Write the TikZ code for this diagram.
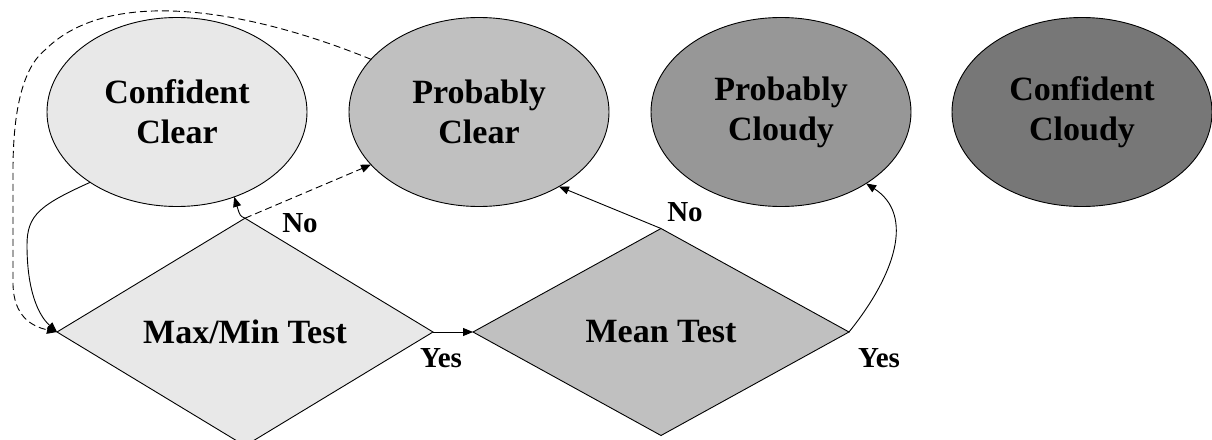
\documentclass[tikz,border=0pt]{standalone}
\usepackage{fontspec}
\setmainfont{Liberation Serif}
\usetikzlibrary{shapes.geometric,arrows.meta}

\definecolor{clearsure}{HTML}{E8E8E8}
\definecolor{clearmaybe}{HTML}{C0C0C0}
\definecolor{cloudmaybe}{HTML}{979797}
\definecolor{cloudsure}{HTML}{777777}

\begin{document}
\begin{tikzpicture}[x=1pt,y=-1pt,
  state/.style={ellipse,draw=black,line width=0.9pt,minimum width=260pt,
    minimum height=189pt,inner sep=0pt,outer sep=0pt,align=center,
    font=\fontsize{34}{40}\selectfont\bfseries},
  test/.style={diamond,draw=black,line width=0.9pt,minimum width=376pt,
    minimum height=207pt,inner sep=0pt,outer sep=0pt,
    font=\fontsize{34}{40}\selectfont\bfseries},
  answer/.style={inner sep=0pt,font=\fontsize{29}{32}\selectfont\bfseries},
  link/.style={line width=0.9pt,-{Triangle[length=10pt,width=8pt]}},
  maybe/.style={link,dash pattern=on 7pt off 4pt}]

\useasboundingbox (0,0) rectangle (1212,439);

% outcome classes
\node[state,fill=clearsure]  (cc)  at (177,112) {Confident\\Clear};
\node[state,fill=clearmaybe] (pc)  at (479,112) {Probably\\Clear};
\node[state,fill=cloudmaybe] (pcl) at (781,112) {Probably\\Cloudy};
\node[state,fill=cloudsure]  (ccl) at (1082,112) {Confident\\Cloudy};

% decision tests
\node[test,fill=clearsure]  (mm) at (245,332) {Max/Min Test};
\node[test,fill=clearmaybe] (mt) at (661,332) {Mean Test};

% branch labels
\node[answer] (no1)  at (300,223) {No};
\node[answer] (yes1) at (441,358) {Yes};
\node[answer] (no2)  at (685,212) {No};
\node[answer] (yes2) at (879,358) {Yes};

% connectors
\draw[link] (mm.north) .. controls (240,216) .. (cc.-56);
\draw[maybe] (mm.north) -- (pc.206);
\draw[link] (mm.east) -- (mt.west);
\draw[link] (mt.north) -- (pc.-43);
\draw[link] (mt.east) .. controls (895,275) and (915,215) .. (pcl.-40);

% feedback loops into the first test
\draw[link] (cc.219) .. controls (40,205) and (27,215) .. (27,245)
  .. controls (27,290) and (38,315) .. (mm.west);
\draw[maybe] (pc.154) .. controls (250,10) and (110,-15) .. (45,50)
  .. controls (20,70) and (13,120) .. (13,170) -- (13,285)
  .. controls (14,315) and (30,326) .. (mm.west);
\end{tikzpicture}
\end{document}
